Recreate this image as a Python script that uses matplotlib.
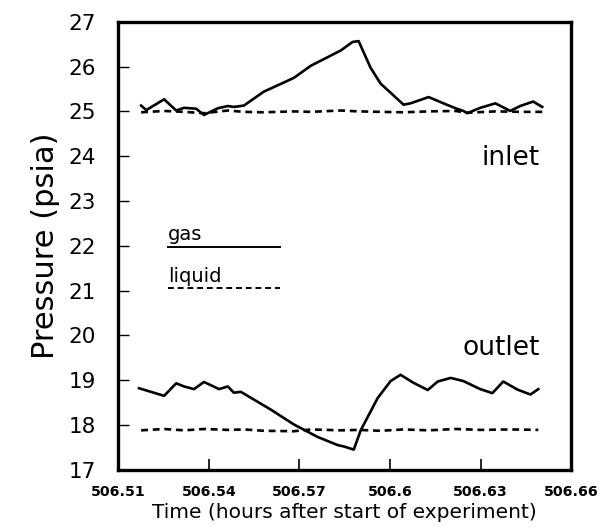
import numpy as np
import matplotlib
matplotlib.use("Agg")
import matplotlib.pyplot as plt

# inlet, gas (solid)
inlet_gas_t = [506.5176, 506.5193, 506.5252, 506.5292, 506.5318, 506.5358, 506.5384,
               506.5430, 506.5463, 506.5483, 506.5516, 506.5582, 506.5682, 506.5738,
               506.5837, 506.5876, 506.5896, 506.5936, 506.5969, 506.6045, 506.6068,
               506.6128, 506.6177, 506.6217, 506.6243, 506.6256, 506.6299, 506.6349,
               506.6398, 506.6431, 506.6474, 506.6504]
inlet_gas_p = [25.13, 25.03, 25.27, 25.02, 25.08, 25.06, 24.92,
               25.07, 25.12, 25.10, 25.13, 25.44, 25.75, 26.02,
               26.36, 26.55, 26.57, 25.97, 25.62, 25.15, 25.18,
               25.32, 25.18, 25.07, 25.01, 24.96, 25.08, 25.18,
               25.01, 25.12, 25.22, 25.10]

# inlet, liquid (dashed)
inlet_liq_t = [506.5176, 506.5252, 506.5318, 506.5384, 506.5463, 506.5516, 506.5582,
               506.5682, 506.5738, 506.5837, 506.5896, 506.5969, 506.6045, 506.6128,
               506.6217, 506.6256, 506.6349, 506.6431, 506.6504]
inlet_liq_p = [24.98, 25.01, 24.99, 24.96, 25.02, 24.99, 24.98,
               25.00, 24.99, 25.02, 25.00, 24.99, 24.98, 25.00,
               25.01, 24.97, 25.00, 24.99, 24.99]

# outlet, gas (solid)
outlet_gas_t = [506.5169, 506.5252, 506.5292, 506.5318, 506.5351, 506.5384, 506.5434,
                506.5463, 506.5483, 506.5506, 506.5606, 506.5682, 506.5761, 506.5827,
                506.5847, 506.5880, 506.5903, 506.5959, 506.6002, 506.6035, 506.6078,
                506.6125, 506.6158, 506.6201, 506.6243, 506.6299, 506.6339, 506.6375,
                506.6422, 506.6465, 506.6491]
outlet_gas_p = [18.82, 18.65, 18.93, 18.86, 18.80, 18.96, 18.80,
                18.86, 18.72, 18.74, 18.34, 18.01, 17.73, 17.55,
                17.52, 17.45, 17.88, 18.60, 18.98, 19.12, 18.94,
                18.78, 18.97, 19.05, 18.98, 18.80, 18.71, 18.97,
                18.79, 18.68, 18.80]

# outlet, liquid (dashed)
outlet_liq_t = [506.5176, 506.5252, 506.5318, 506.5384, 506.5463, 506.5516, 506.5582,
                506.5682, 506.5738, 506.5837, 506.5896, 506.5969, 506.6045, 506.6128,
                506.6217, 506.6299, 506.6398, 506.6491]
outlet_liq_p = [17.88, 17.91, 17.88, 17.91, 17.89, 17.90, 17.87,
                17.86, 17.90, 17.88, 17.89, 17.87, 17.90, 17.88,
                17.91, 17.89, 17.90, 17.89]

x_ticks = [506.51, 506.54, 506.57, 506.60, 506.63, 506.66]
x_tick_labels = ["506.51", "506.54", "506.57", "506.6", "506.63", "506.66"]
y_ticks = list(range(17, 28))

fig = plt.figure(figsize=(6.0, 5.32), dpi=100)
ax = fig.add_axes([0.197, 0.117, 0.755, 0.842])

lw = 1.9
dash = (0, (2.6, 1.8))
ax.plot(inlet_gas_t, inlet_gas_p, color="black", lw=lw)
ax.plot(inlet_liq_t, inlet_liq_p, color="black", lw=lw, linestyle=dash)
ax.plot(outlet_gas_t, outlet_gas_p, color="black", lw=lw)
ax.plot(outlet_liq_t, outlet_liq_p, color="black", lw=lw, linestyle=dash)

# legend drawn by hand, as in the original
ax.plot([506.5265, 506.5636], [21.98, 21.98], color="black", lw=1.4)
ax.plot([506.5265, 506.5636], [21.05, 21.05], color="black", lw=1.4,
        linestyle=(0, (3.0, 2.0)))
ax.text(506.5265, 22.12, "gas", fontsize=14, ha="left", va="baseline")
ax.text(506.5265, 21.19, "liquid", fontsize=14, ha="left", va="baseline")

ax.text(506.6497, 23.95, "inlet", fontsize=19, ha="right", va="center")
ax.text(506.6497, 19.72, "outlet", fontsize=19, ha="right", va="center")

ax.set_xlim(506.51, 506.66)
ax.set_ylim(17, 27)
ax.set_xticks(x_ticks)
ax.set_xticklabels(x_tick_labels, fontsize=10.2, fontweight="bold")
ax.set_yticks(y_ticks)
ax.set_yticklabels([str(v) for v in y_ticks], fontsize=15.5)
ax.tick_params(axis="x", direction="in", length=8, width=1.2, pad=11)
ax.tick_params(axis="y", direction="in", length=8, width=1.0, pad=16)
for s in ax.spines.values():
    s.set_linewidth(2.4)

ax.set_xlabel("Time (hours after start of experiment)", fontsize=14.5, labelpad=3)
ax.set_ylabel("Pressure (psia)", fontsize=22, labelpad=6)

fig.savefig("out.png", dpi=100)
